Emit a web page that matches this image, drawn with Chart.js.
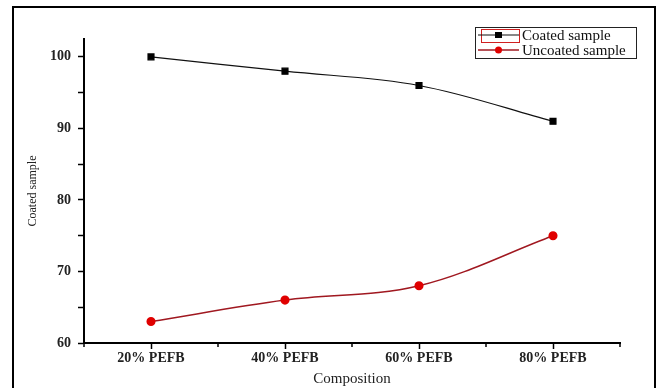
<!DOCTYPE html>
<html>
<head>
<meta charset="utf-8">
<script src="https://cdn.jsdelivr.net/npm/chart.js@4"></script>
<style>
  html, body { margin: 0; padding: 0; background: #fff; }
  #wrap { width: 660px; height: 388px; }
</style>
</head>
<body>
<div id="wrap"><canvas id="myChart" width="660" height="388"></canvas></div>
<script>
// data
const categories = ["20% PEFB", "40% PEFB", "60% PEFB", "80% PEFB"];
const coated = [100, 98, 96, 91];
const uncoated = [63, 66, 68, 75];
const yTickValues = [60, 65, 70, 75, 80, 85, 90, 95, 100];
const yLabelValues = [60, 70, 80, 90, 100];

const serif = "'Liberation Serif', 'DejaVu Serif', serif";

// outer frame + minor x ticks + legend
const extras = {
  id: "extras",
  afterDraw(chart) {
    const ctx = chart.ctx;
    const x = chart.scales.x;
    ctx.save();
    // frame
    ctx.strokeStyle = "#000";
    ctx.lineWidth = 2;
    ctx.beginPath();
    ctx.moveTo(13, 400);
    ctx.lineTo(13, 7);
    ctx.lineTo(655, 7);
    ctx.lineTo(655, 400);
    ctx.stroke();

    // minor ticks on x between the categories
    const step = x.getPixelForValue(1) - x.getPixelForValue(0);
    ctx.lineWidth = 1.5;
    ctx.beginPath();
    for (let i = 0; i <= categories.length; i++) {
      const px = x.getPixelForValue(0) - step / 2 + i * step;
      ctx.moveTo(px, x.top);
      ctx.lineTo(px, x.top + 4);
    }
    ctx.stroke();

    // legend
    ctx.lineWidth = 1;
    ctx.strokeStyle = "#222";
    ctx.strokeRect(475.5, 27.5, 161, 31);
    ctx.strokeStyle = "#d02020";
    ctx.strokeRect(481.5, 29.5, 38, 13);
    const rows = [
      { ds: chart.data.datasets[0], y: 35 },
      { ds: chart.data.datasets[1], y: 50 }
    ];
    rows.forEach(r => {
      ctx.strokeStyle = r.ds.borderColor;
      ctx.lineWidth = r.ds.borderWidth;
      ctx.beginPath();
      ctx.moveTo(478, r.y);
      ctx.lineTo(519, r.y);
      ctx.stroke();
      ctx.fillStyle = r.ds.pointBackgroundColor;
      if (r.ds.pointStyle === "rect") {
        ctx.fillRect(495, r.y - 3, 7, 6);
      } else {
        ctx.beginPath();
        ctx.arc(498.5, r.y, 3.5, 0, Math.PI * 2);
        ctx.fill();
      }
      ctx.fillStyle = "#111";
      ctx.font = "15px " + serif;
      ctx.textBaseline = "middle";
      ctx.fillText(r.ds.label, 522, r.y + 1);
    });
    ctx.restore();
  }
};

new Chart(document.getElementById("myChart"), {
  type: "line",
  data: {
    labels: categories,
    datasets: [
      {
        label: "Coated sample",
        data: coated,
        borderColor: "#111",
        borderWidth: 1.2,
        pointStyle: "rect",
        pointRadius: 4.2,
        pointBackgroundColor: "#000",
        pointBorderColor: "#000",
        tension: 0.35
      },
      {
        label: "Uncoated sample",
        data: uncoated,
        borderColor: "#a01820",
        borderWidth: 1.5,
        pointStyle: "circle",
        pointRadius: 3.8,
        pointBackgroundColor: "#e00000",
        pointBorderColor: "#e00000",
        tension: 0.35
      }
    ]
  },
  options: {
    responsive: false,
    animation: false,
    layout: { padding: { left: 0, top: 39, right: 40, bottom: 0 } },
    plugins: { legend: { display: false }, tooltip: { enabled: false } },
    scales: {
      x: {
        type: "category",
        offset: true,
        grid: { drawOnChartArea: false, tickLength: 6, tickColor: "#000", tickWidth: 1.5 },
        border: { color: "#000", width: 2 },
        ticks: { color: "#222", font: { family: serif, size: 14, weight: "bold" }, padding: 1 },
        title: { display: true, text: "Composition", color: "#222", font: { family: serif, size: 15 }, padding: { top: 0, bottom: 0 } },
        afterFit(scale) { scale.height = 45; }
      },
      y: {
        min: 60,
        max: 102.5,
        afterBuildTicks(scale) { scale.ticks = yTickValues.map(v => ({ value: v })); },
        grid: {
          drawOnChartArea: false,
          tickLength: 6,
          tickColor: "#000",
          tickWidth: 1.5
        },
        border: { color: "#000", width: 2 },
        ticks: {
          color: "#222",
          font: { family: serif, size: 14, weight: "bold" },
          padding: 7,
          callback: v => (yLabelValues.includes(v) ? v : "")
        },
        title: { display: true, text: "Coated sample", color: "#222", font: { family: serif, size: 12 }, padding: { top: 26, bottom: 0 } },
        afterFit(scale) { scale.width = 84; }
      }
    }
  },
  plugins: [extras]
});
</script>
</body>
</html>
